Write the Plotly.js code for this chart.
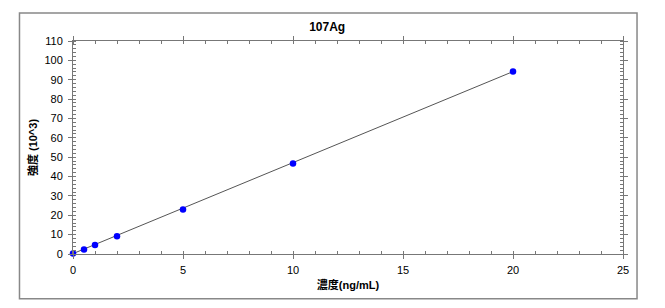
<!DOCTYPE html>
<html>
<head>
<meta charset="utf-8">
<script src="https://cdn.plot.ly/plotly-3.0.1.min.js"></script>
<style>html,body{margin:0;padding:0;background:#fff;}#chart{width:665px;height:308px;}</style>
</head>
<body>
<div id="chart"></div>
<script>
// Calibration standards: concentration (ng/mL) and intensity (10^3)
const concentration = [0, 0.5, 1, 2, 5, 10, 20];
const intensity = [0.3, 2.3, 4.6, 9.2, 23.0, 46.7, 94.2];
// Calibration (fit) line endpoints
const fitX = [0, 20];
const fitY = [0.2, 94.2];
const xTicks = [0, 5, 10, 15, 20, 25];
const yTicks = [0, 10, 20, 30, 40, 50, 60, 70, 80, 90, 100, 110];

const font = "Arial, 'Liberation Sans', 'Noto Sans CJK JP', sans-serif";
const traces = [
  {x: fitX, y: fitY, mode: 'lines', line: {color: '#555555', width: 1}, hoverinfo: 'skip', showlegend: false},
  {x: concentration, y: intensity, mode: 'markers', marker: {color: '#0000ff', size: 6.5}, showlegend: false, cliponaxis: false}
];
const layout = {
  width: 665, height: 308,
  margin: {l: 73, r: 42, t: 41, b: 54},
  paper_bgcolor: '#ffffff', plot_bgcolor: '#ffffff',
  font: {family: font, size: 11, color: '#000'},
  title: {text: '<b>107Ag</b>', x: 0.492, xanchor: 'center', y: 0.913, yanchor: 'middle', font: {size: 12, family: font, color: '#000'}},
  xaxis: {
    range: [0, 25], tickvals: xTicks, ticktext: xTicks.map(String),
    showgrid: false, zeroline: false, showline: true, linecolor: '#777', linewidth: 1,
    mirror: 'ticks', ticks: 'outside', ticklen: 4, tickcolor: '#777', tickwidth: 1,
    minor: {dtick: 1, ticks: 'inside', ticklen: 3, tickcolor: '#777', showgrid: false},
    tickfont: {size: 11, family: font}, ticklabelstandoff: 2,
    title: {text: '<b>濃度(ng/mL)</b>', font: {size: 11, family: font}, standoff: 6}
  },
  yaxis: {
    range: [0, 110], tickvals: yTicks, ticktext: yTicks.map(String),
    showgrid: false, zeroline: false, showline: true, linecolor: '#777', linewidth: 1,
    mirror: 'ticks', ticks: 'outside', ticklen: 4, tickcolor: '#777', tickwidth: 1,
    minor: {dtick: 2, ticks: 'inside', ticklen: 3, tickcolor: '#777', showgrid: false},
    tickfont: {size: 11, family: font}, ticklabelstandoff: 3,
    title: {text: '<b>強度 (10^3)</b>', font: {size: 11, family: font}, standoff: 4}
  },
  shapes: [
    {type: 'rect', xref: 'paper', yref: 'paper', x0: -0.0973, x1: 1.0255, y0: -0.21, y1: 1.131,
     line: {color: '#888888', width: 1.5}, fillcolor: 'rgba(0,0,0,0)', layer: 'below'}
  ]
};
Plotly.newPlot('chart', traces, layout, {displayModeBar: false, staticPlot: true});
</script>
</body>
</html>
